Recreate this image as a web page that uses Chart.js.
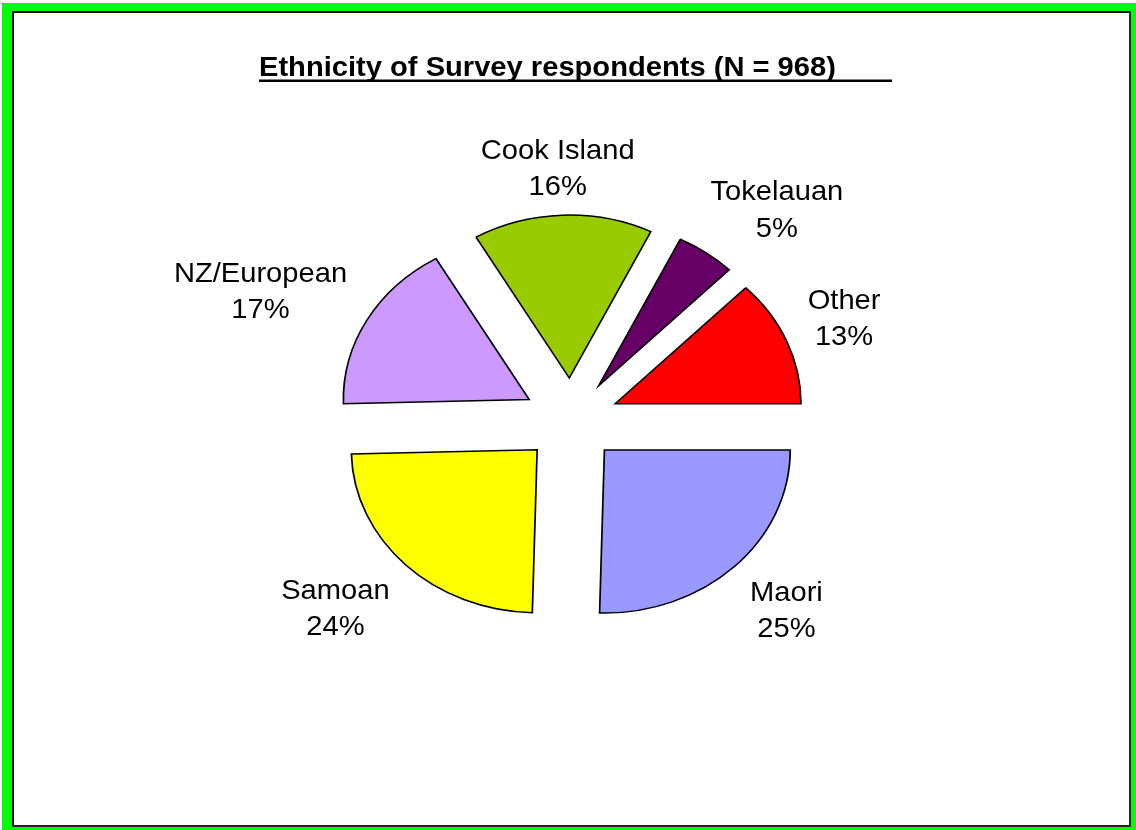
<!DOCTYPE html>
<html>
<head>
<meta charset="utf-8">
<script src="https://cdn.jsdelivr.net/npm/chart.js@4.4.1/dist/chart.umd.min.js"></script>
<style>
  html, body { margin: 0; padding: 0; background: #fff; }
  #frame { position: absolute; left: 2px; top: 3px; width: 1134px; height: 827px; background: #00ff00; }
  #panel { position: absolute; left: 10px; top: 8px; width: 1119px; height: 816px; box-sizing: border-box;
           border: 2px solid #000; border-right-color: #222; border-bottom-color: #222; background: #fff; }
  #wrap { position: absolute; left: 0; top: 0; width: 1136px; height: 830px; }
</style>
</head>
<body>
<div id="frame"><div id="panel"></div></div>
<div id="wrap"><canvas id="pie"></canvas></div>
<script>
// slices, clockwise from 3 o'clock (respondent counts, N = 968)
const categories = ['Maori', 'Samoan', 'NZ/European', 'Cook Island', 'Tokelauan', 'Other'];
const counts = [246, 234, 165, 151, 50, 122];
const sliceColours = ['#9999ff', '#ffff00', '#cc99ff', '#99cc00', '#660066', '#ff0000'];
const chartTitle = 'Ethnicity of Survey respondents (N = 968)';

const STRETCH_X = 1.14;   // pie is a bit wider than tall
const EXPLODE = 42;       // distance each slice is pulled out
const TEXT_X = 1.04;
const LABEL_GAP = 20;
const LINE_GAP = 36.5;

const ctx = document.getElementById('pie').getContext('2d');

const clampUnit = t => Math.max(-1, Math.min(1, t));

const pieExtras = {
    id: 'pieExtras',
    beforeDatasetDraw(chart, args) {
        const c = chart.ctx;
        args.meta.data.forEach(arc => {
            const mid = (arc.startAngle + arc.endAngle) / 2;
            c.save();
            c.translate(arc.x, arc.y);
            c.scale(STRETCH_X, 1);
            c.translate(Math.cos(mid) * EXPLODE, Math.sin(mid) * EXPLODE);
            c.translate(-arc.x, -arc.y);
            arc.draw(c, chart.chartArea);
            c.restore();
        });
        return false;
    },
    afterDraw(chart) {
        const c = chart.ctx;
        const meta = chart.getDatasetMeta(0);
        const values = chart.data.datasets[0].data;
        const total = values.reduce((a, b) => a + b, 0);

        c.save();
        c.fillStyle = '#000';
        c.font = '28px "Liberation Sans", Arial, sans-serif';
        c.textAlign = 'center';
        c.textBaseline = 'alphabetic';
        meta.data.forEach((arc, i) => {
            const mid = (arc.startAngle + arc.endAngle) / 2;
            const cos = Math.cos(mid), sin = Math.sin(mid);
            const rr = arc.outerRadius + EXPLODE + LABEL_GAP;
            const px = arc.x + rr * cos * STRETCH_X;
            const py = arc.y + rr * sin;
            const name = chart.data.labels[i];
            const pct = Math.round(values[i] / total * 100) + '%';
            const halfW = Math.max(c.measureText(name).width, c.measureText(pct).width) * TEXT_X / 2;
            const halfH = 28;
            // label box pushed outward from the point on the slice's middle ray
            const lx = px + halfW * clampUnit(cos * 1.5);
            const ly = py + halfH * clampUnit(sin * 1.5);
            [[name, ly - LINE_GAP / 2 + 10], [pct, ly + LINE_GAP / 2 + 10]].forEach(([t, y]) => {
                c.save();
                c.translate(lx, y);
                c.scale(TEXT_X, 1);
                c.fillText(t, 0, 0);
                c.restore();
            });
        });

        // title with its long underline
        c.font = 'bold 28px "Liberation Sans", Arial, sans-serif';
        c.textAlign = 'left';
        c.save();
        c.translate(259, 76);
        c.scale(1.04, 1);
        c.fillText(chartTitle, 0, 0);
        c.restore();
        c.fillRect(259, 79.5, 633, 2.5);
        c.restore();
    }
};

new Chart(ctx, {
    type: 'pie',
    data: {
        labels: categories,
        datasets: [{
            data: counts,
            backgroundColor: sliceColours,
            borderColor: '#000',
            borderWidth: 1.5,
            borderJoinStyle: 'miter',
            radius: 163,
            clip: false
        }]
    },
    options: {
        responsive: true,
        maintainAspectRatio: false,
        animation: false,
        events: [],
        rotation: 90,
        layout: { padding: { left: 321, right: 315, top: 170, bottom: 160 } },
        plugins: {
            legend: { display: false },
            title: { display: false },
            tooltip: { enabled: false }
        }
    },
    plugins: [pieExtras]
});
</script>
</body>
</html>
